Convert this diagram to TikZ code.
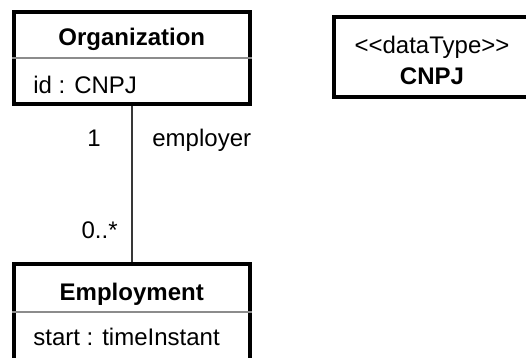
\documentclass[tikz,border=0pt]{standalone}
\usepackage{fontspec}
\setmainfont{Liberation Sans}

\begin{document}
\begin{tikzpicture}[x=0.5pt, y=-0.5pt]
		\tikzstyle{every node}=[align=center, inner sep=1pt, font=\fontsize{12}{14}\selectfont]
		\tikzstyle{classbox}=[draw, line width=2pt, inner sep=0pt]
		\tikzstyle{divider}=[draw=black!45, line width=0.7pt]
		\tikzstyle{assoc}=[draw=black!78, line width=1pt]
		\useasboundingbox (0, 0) rectangle (526, 358);
		\clip (0, 0) rectangle (526, 358);

				% class boxes
				\node[classbox, minimum width=117.75pt, minimum height=46.25pt] (org) at (131.75, 58.25) {};
				\node[classbox, minimum width=117.75pt, minimum height=59pt] (emp) at (131.75, 323.5) {};
				\node[classbox, minimum width=98.5pt, minimum height=39.75pt] (cnpj) at (432, 57.25) {};

				\draw[divider] (org.west |- 0, 58) -- (org.east |- 0, 58);
				\draw[divider] (emp.west |- 0, 312) -- (emp.east |- 0, 312);

				\node[anchor=base, font=\fontsize{12}{14}\selectfont\bfseries] (orgname) at (131.75, 45.6) {Organization};
				\node[anchor=base west] (orgid) at (31, 93.6) {id : CNPJ};
				\node[anchor=base, font=\fontsize{12}{14}\selectfont\bfseries] (empname) at (131.75, 300.3) {Employment};
				\node[anchor=base west] (empstart) at (31, 346) {start : timeInstant};
				\node[anchor=base] (stereo) at (432, 53.4) {<{}<dataType>{}>};
				\node[anchor=base, font=\fontsize{12}{14}\selectfont\bfseries] (cnpjname) at (432, 85) {CNPJ};

				% association
				\draw[assoc] (org) -- (emp);
				\node[anchor=base east] (mult1) at (103, 146.7) {1};
				\node[anchor=base west] (role) at (150, 146.7) {employer};
				\node[anchor=base east] (mult2) at (120, 238.5) {0..*};
\end{tikzpicture}
\end{document}
